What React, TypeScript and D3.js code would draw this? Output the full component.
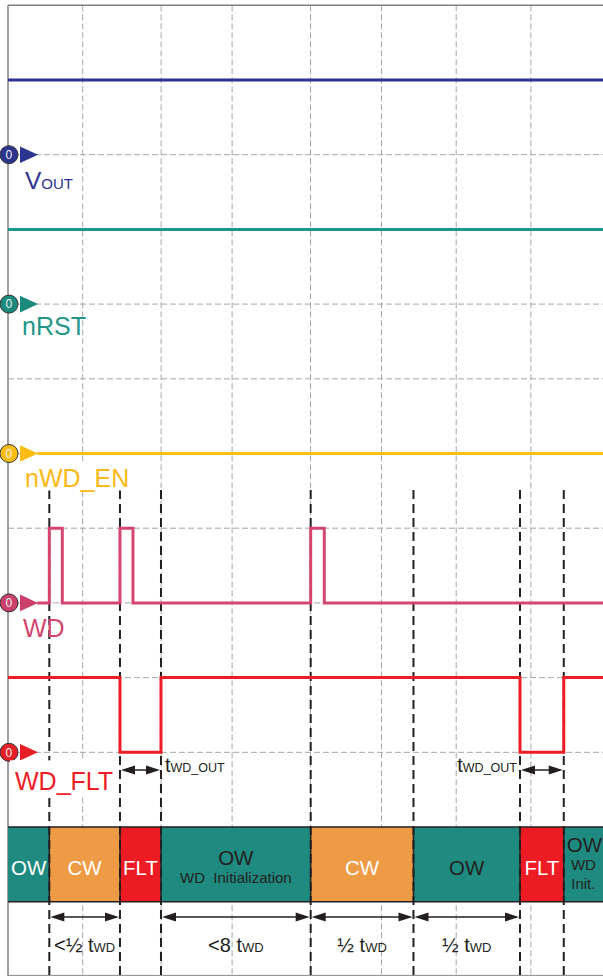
import * as d3 from "d3";

// grid divisions (time on x, rows on y)
const gridCols = [1, 2.05, 3, 4.05, 5, 6, 7];
const gridRows = [1, 2, 3, 4, 5, 6, 7, 8, 9, 10];

// channels
const channelNames = ["VOUT", "nRST", "nWD_EN", "WD", "WD_FLT"];
const channelZeroRows = [2, 4, 6, 8, 10];

// signal edges (time in divisions, level 0/1)
const voutTimes = [0, 8.2];
const voutLevels = [1, 1];
const nrstTimes = [0, 8.2];
const nrstLevels = [1, 1];
const nwdenTimes = [0.39, 8.2];
const nwdenLevels = [0, 0];
const wdTimes = [0.39, 0.553, 0.727, 1.499, 1.673, 4.052, 4.234, 8.2];
const wdLevels = [0, 1, 0, 1, 0, 1, 0, 0];
const fltTimes = [0, 1.499, 2.048, 6.854, 7.44, 8.2];
const fltLevels = [1, 0, 1, 0, 1, 1];

// event markers + state bar
const eventTimes = [0.553, 1.499, 2.048, 4.052, 5.428, 6.854, 7.44];
const stateBounds = [0, 0.553, 1.499, 2.048, 4.052, 5.428, 6.854, 7.44, 8.2];
const stateNames = ["OW", "CW", "FLT", "OW", "CW", "OW", "FLT", "OW"];
const stateNotes = [[], [], [], ["WD  Initialization"], [], [], [], ["WD", "Init."]];

// timing annotations
const spanStart = [0.553, 2.048, 4.052, 5.428];
const spanEnd = [1.499, 4.052, 5.428, 6.854];
const spanPrefix = ["<½", "<8", "½", "½"];
const outStart = [1.499, 6.854];
const outEnd = [2.048, 7.44];

const W = 603;
const H = 976;
const FONT = "'Liberation Sans', Arial, Helvetica, sans-serif";
const INK = "#231f20";

const channelColors = ["#2e3192", "#1f968a", "#fdc010", "#d4466f", "#ee1c25"];
const markerColors = ["#2b348f", "#1a8a7d", "#fbbd14", "#c9406a", "#e81f27"];
const labelColors = ["#2e3192", "#1f968a", "#fdb913", "#d4466f", "#ee1c25"];
const stateColors: Record<string, string> = { OW: "#1f8a80", CW: "#ee9b46", FLT: "#ed1c24" };

function Arrow({ x1, x2, yy }: { x1: number; x2: number; yy: number }) {
  const L = 14;
  const hw = 4.5;
  return (
    <g>
      <line x1={x1 + 4} x2={x2 - 4} y1={yy} y2={yy} stroke={INK} strokeWidth={1.5} />
      <path d={`M${x1 + 1},${yy} L${x1 + 1 + L},${yy - hw} L${x1 + 1 + L},${yy + hw} Z`} fill={INK} />
      <path d={`M${x2 - 1},${yy} L${x2 - 1 - L},${yy - hw} L${x2 - 1 - L},${yy + hw} Z`} fill={INK} />
    </g>
  );
}

export default function App() {
  const x = d3.scaleLinear().domain([0, 8]).range([8, 605.6]);
  const y = d3.scaleLinear().domain([0, 13]).range([5.3, 976.4]);

  const signals = [
    { t: voutTimes, v: voutLevels },
    { t: nrstTimes, v: nrstLevels },
    { t: nwdenTimes, v: nwdenLevels },
    { t: wdTimes, v: wdLevels },
    { t: fltTimes, v: fltLevels },
  ];

  // label placement relative to each zero row
  const labelLayout = [
    { dx: 25, dy: 34 },
    { dx: 22, dy: 31 },
    { dx: 25, dy: 33 },
    { dx: 23, dy: 34 },
    { dx: 15, dy: 38 },
  ];

  const barTop = y(11);
  const barBot = y(12);
  const barMid = (barTop + barBot) / 2;

  return (
    <svg
      width={W}
      height={H}
      style={{ position: "absolute", left: 0, top: 0, display: "block", background: "#fff" }}
      fontFamily={FONT}
    >
      {/* grid */}
      {gridRows.map((r) => (
        <line key={"r" + r} x1={x(0)} x2={W} y1={y(r)} y2={y(r)} stroke="#a6a6a6" strokeWidth={1} strokeDasharray="6 3" />
      ))}
      {gridCols.map((c) => (
        <line key={"c" + c} x1={x(c)} x2={x(c)} y1={y(0)} y2={y(13)} stroke="#a6a6a6" strokeWidth={1} strokeDasharray="6 3" />
      ))}
      {/* frame */}
      <line x1={x(0)} x2={W} y1={y(0)} y2={y(0)} stroke="#808080" strokeWidth={1.5} />
      <line x1={x(0)} x2={x(0)} y1={y(0)} y2={H} stroke="#808080" strokeWidth={1.5} />
      <line x1={x(0)} x2={W} y1={y(13) - 1} y2={y(13) - 1} stroke="#8a8a8a" strokeWidth={1} />

      {/* state bar */}
      {stateNames.map((s, i) => {
        const x0 = x(stateBounds[i]);
        const x1 = x(stateBounds[i + 1]);
        const cx = (x0 + Math.min(x1, W)) / 2;
        const notes = stateNotes[i];
        const dark = s === "OW" && i > 0;
        const fill = dark ? INK : "#fff";
        let mainY = barMid + 11;
        if (notes.length === 1) mainY = barMid + 1;
        if (notes.length === 2) mainY = barMid - 12;
        return (
          <g key={"s" + i}>
            <rect x={x0} y={barTop} width={x1 - x0} height={barBot - barTop} fill={stateColors[s]} />
            <text x={notes.length === 2 ? cx + 1 : cx} y={mainY} textAnchor="middle" fontSize={20.5} fill={fill}>
              {s}
            </text>
            {notes.map((n, j) => (
              <text
                key={j}
                x={cx}
                y={notes.length === 2 ? barMid + 6 + j * 19 : barMid + 19}
                textAnchor="middle"
                fontSize={15}
                fill={fill}
                style={{ whiteSpace: "pre" }}
              >
                {n}
              </text>
            ))}
          </g>
        );
      })}
      <line x1={x(0)} x2={W} y1={barTop} y2={barTop} stroke={INK} strokeWidth={1.5} />
      <line x1={x(0)} x2={W} y1={barBot} y2={barBot} stroke={INK} strokeWidth={1.5} />
      {stateBounds.slice(1, -1).map((b, i) => (
        <line key={"sb" + i} x1={x(b)} x2={x(b)} y1={barTop} y2={barBot} stroke={INK} strokeWidth={1.5} />
      ))}

      {/* event markers */}
      {eventTimes.map((t, i) => (
        <line key={"e" + i} x1={x(t)} x2={x(t)} y1={490} y2={H} stroke={INK} strokeWidth={2} strokeDasharray="9 5" />
      ))}

      {/* signals */}
      {signals.map((s, i) => {
        const zero = channelZeroRows[i];
        const line = d3
          .line<number>()
          .x((t) => x(t))
          .y((_, k) => y(zero - s.v[k]))
          .curve(d3.curveStepAfter);
        return (
          <path key={"sig" + i} d={line(s.t) ?? ""} fill="none" stroke={channelColors[i]} strokeWidth={3} strokeLinejoin="miter" />
        );
      })}

      {/* zero markers */}
      {channelNames.map((n, i) => {
        const yy = y(channelZeroRows[i]);
        return (
          <g key={"m" + n}>
            <path d={`M20,${yy - 8.3} L38,${yy} L20,${yy + 8.3} Z`} fill={markerColors[i]} />
            <circle cx={9} cy={yy} r={9} fill={markerColors[i]} stroke="#333" strokeWidth={1} />
            <text x={8.8} y={yy + 4.3} textAnchor="middle" fontSize={12} fill="#f2f2f2">
              0
            </text>
          </g>
        );
      })}

      {/* channel labels */}
      <rect x={20} y={y(6) + 8} width={116} height={29} fill="#fff" />
      <rect x={10} y={y(10) + 8} width={108} height={36} fill="#fff" />
      {channelNames.map((n, i) => {
        const lx = labelLayout[i].dx;
        const ly = y(channelZeroRows[i]) + labelLayout[i].dy;
        if (n === "VOUT") {
          return (
            <text key={"l" + n} x={lx} y={ly} fill={labelColors[i]}>
              <tspan fontSize={24.5}>V</tspan>
              <tspan fontSize={15}>OUT</tspan>
            </text>
          );
        }
        return (
          <text key={"l" + n} x={lx} y={ly} fontSize={25} fill={labelColors[i]}>
            {n}
          </text>
        );
      })}

      {/* tWD_OUT */}
      {outStart.map((s, i) => {
        const a = x(s);
        const b = x(outEnd[i]);
        const yy = 770;
        return (
          <g key={"o" + i}>
            <Arrow x1={a} x2={b} yy={yy} />
            <text
              x={i === 0 ? b + 4 : a - 3}
              y={yy + 2}
              textAnchor={i === 0 ? "start" : "end"}
              fill={INK}
            >
              <tspan fontSize={20}>t</tspan>
              <tspan fontSize={12.5}>WD_OUT</tspan>
            </text>
          </g>
        );
      })}

      {/* tWD spans */}
      {spanStart.map((s, i) => {
        const a = x(s);
        const b = x(spanEnd[i]);
        return (
          <g key={"sp" + i}>
            <Arrow x1={a} x2={b} yy={917} />
            <text x={(a + b) / 2} y={952} textAnchor="middle" fill={INK}>
              <tspan fontSize={20}>{spanPrefix[i] + " t"}</tspan>
              <tspan fontSize={13}>WD</tspan>
            </text>
          </g>
        );
      })}
    </svg>
  );
}
